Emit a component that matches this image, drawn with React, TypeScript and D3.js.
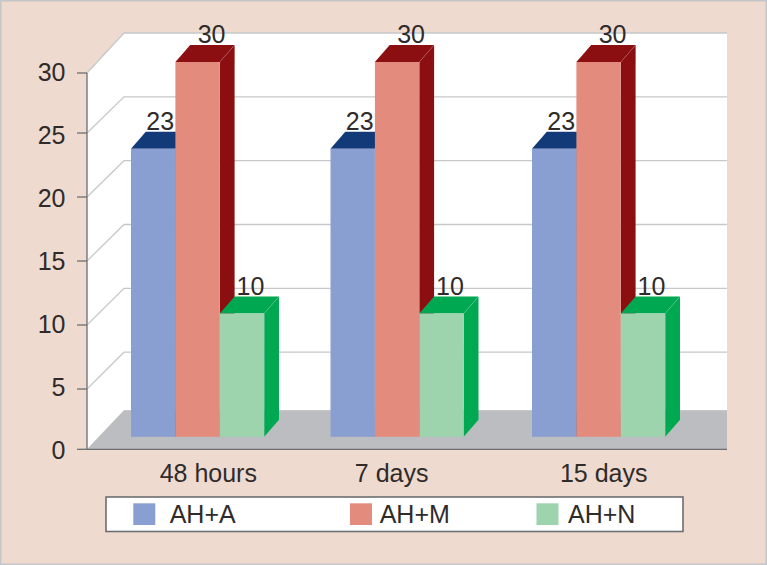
import React from "react";
import * as d3 from "d3";

const categories = ["48 hours", "7 days", "15 days"];
const seriesNames = ["AH+A", "AH+M", "AH+N"];
const ahA = [23, 23, 23];
const ahM = [30, 30, 30];
const ahN = [10, 10, 10];
const seriesValues = [ahA, ahM, ahN];
const frontColors = ["#8a9fd1", "#e38c7e", "#9dd3ad"];
const sideColors = ["#123a78", "#8b0e10", "#00a851"];
const yTicks = [0, 5, 10, 15, 20, 25, 30];
const groupLeft = [131, 330.5, 532];
const catLabelX = [208.3, 391.7, 603.7];
const valueLabelDx = [7, 14, 8.5];
const legendSwatchX = [133.3, 350, 536.5];
const legendTextX = [169.7, 379.7, 568];

const W = 767, H = 565;
const axisX = 87, axisRight = 690;
const depthX = 37;
const barDX = 14.8, barDY = 17;
const plotTop = 73, plotBottom = 449.3;
const wallTop = 33, floorBack = 410.3;

// front-edge and back-edge positions of the gridlines; the extreme ones are cut by the plot frame
const yFront = d3.scaleLinear().domain([0, 30]).range([453, 69]);
const yBack = d3.scaleLinear().domain([0, 30]).range([416, wallTop]);
const clampFront = (t: number) => Math.max(plotTop, Math.min(plotBottom, yFront(t)));
const yLabel = d3.scaleLinear().domain([0, 30]).range([458.5, 81]);
const barY = d3.scaleLinear().domain([0, 10, 23, 30]).range([436.8, 313.4, 148.8, 62]);
const x0 = d3.scaleOrdinal<string, number>().domain(categories).range(groupLeft);
const barW = 44.4;
const font = "Liberation Sans, Arial, sans-serif";
const textCol = "#2f2b2b";

export default function App() {
  const line = d3.line();
  const poly = (pts: [number, number][]) => line(pts) + "Z";
  return (
    <svg width={W} height={H} viewBox={`0 0 ${W} ${H}`} style={{ position: "absolute", left: 0, top: 0, display: "block" }} fontFamily={font}>
      <rect x={0.75} y={0.75} width={W - 1.5} height={H - 1.5} fill="#eedacf" stroke="#c4c6c8" strokeWidth={1.5} />
      {/* wall */}
      <path d={poly([[axisX, plotTop], [axisX + depthX, wallTop], [axisRight + depthX, wallTop], [axisRight + depthX, floorBack], [axisX + depthX, floorBack], [axisX, plotBottom]])} fill="#fff" />
      {/* floor */}
      <path d={poly([[axisX, plotBottom], [axisX + depthX, floorBack], [axisRight + depthX, floorBack], [axisRight + depthX, plotBottom]])} fill="#bcbdc0" />
      {/* grid */}
      {yTicks.filter(t => t > 0).map(t => (
        <path key={t} d={`M${axisX},${clampFront(t)}L${axisX + depthX},${yBack(t)}H${axisRight + depthX}`} fill="none" stroke="#c6c8ca" strokeWidth={1.3} />
      ))}
      {/* axes */}
      <path d={`M${axisX},${plotTop}V${plotBottom}H${axisRight + depthX}`} fill="none" stroke="#6d6e71" strokeWidth={1.3} />
      {yTicks.map(t => (
        <g key={t}>
          <line x1={axisX - 10} x2={axisX} y1={clampFront(t)} y2={clampFront(t)} stroke="#6d6e71" strokeWidth={1.3} />
          <text x={65.5} y={yLabel(t)} textAnchor="end" fontSize={25} fill={textCol}>{t}</text>
        </g>
      ))}
      {/* bars */}
      {categories.map((c, ci) => {
        const left = x0(c);
        return (
          <g key={c}>
            {seriesValues.map((vals, si) => {
              const bx = left + si * barW;
              const top = barY(vals[ci]);
              const bot = barY(0);
              return (
                <g key={si}>
                  <path d={poly([[bx, top], [bx + barDX, top - barDY], [bx + barW + barDX, top - barDY], [bx + barW, top]])} fill={sideColors[si]} />
                  <path d={poly([[bx + barW, top], [bx + barW + barDX, top - barDY], [bx + barW + barDX, bot - barDY], [bx + barW, bot]])} fill={sideColors[si]} />
                  <line x1={bx + barW} y1={top} x2={bx + barW + barDX} y2={top - barDY} stroke="#fff" strokeOpacity={0.15} strokeWidth={0.8} />
                </g>
              );
            })}
            {seriesValues.map((vals, si) => {
              const bx = left + si * barW;
              const top = barY(vals[ci]);
              return <rect key={si} x={bx} y={top} width={barW} height={barY(0) - top} fill={frontColors[si]} />;
            })}
            {seriesValues.map((vals, si) => {
              const bx = left + si * barW;
              const top = barY(vals[ci]);
              return <text key={si} x={bx + barW / 2 + valueLabelDx[si]} y={top - 18.7} textAnchor="middle" fontSize={25} fill={textCol}>{vals[ci]}</text>;
            })}
            <text x={catLabelX[ci]} y={481.5} textAnchor="middle" fontSize={25} fill={textCol}>{c}</text>
          </g>
        );
      })}
      {/* legend */}
      <rect x={106} y={497} width={577} height={34.5} fill="#fff" stroke="#6d6e71" strokeWidth={1.6} />
      {seriesNames.map((s, i) => (
        <g key={s}>
          <rect x={legendSwatchX[i]} y={503.3} width={22} height={21.7} fill={frontColors[i]} />
          <text x={legendTextX[i]} y={523.3} fontSize={25} fill={textCol}>{s}</text>
        </g>
      ))}
    </svg>
  );
}
